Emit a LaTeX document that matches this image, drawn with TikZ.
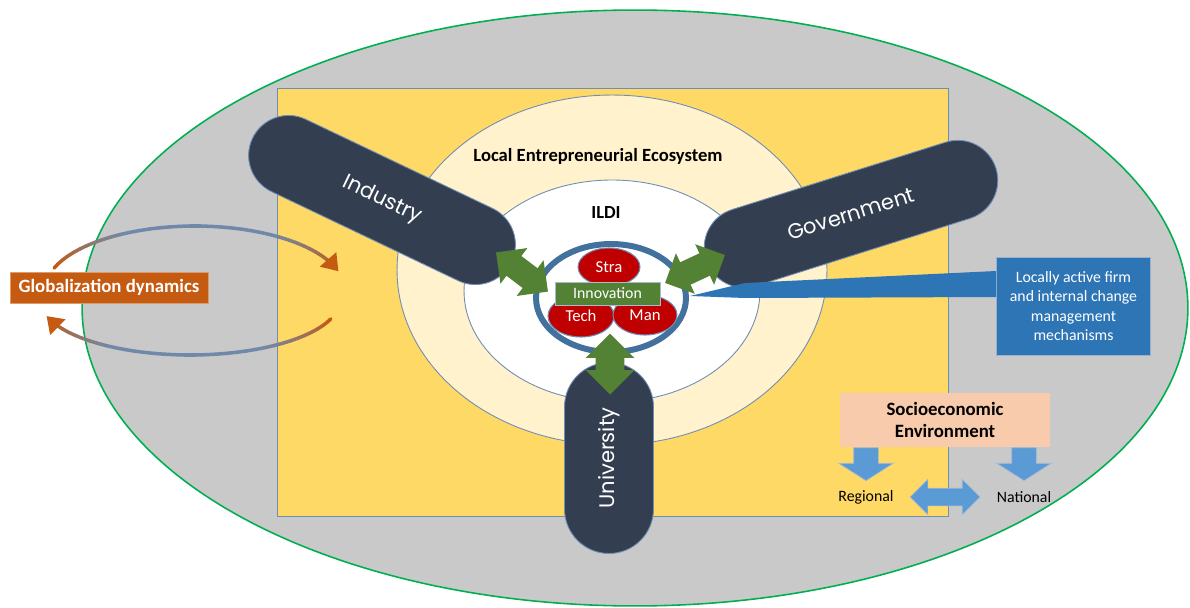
\documentclass[tikz,border=0pt]{standalone}
\usepackage{fontspec}
\setmainfont{Carlito}
\newfontfamily\pillfont{Poppins}
\usetikzlibrary{arrows.meta, calc, positioning, shapes.geometric, shapes.arrows}

\definecolor{outergray}{HTML}{C9C9C9}
\definecolor{rimgreen}{HTML}{00B050}
\definecolor{boxgold}{HTML}{FFD966}
\definecolor{ecocream}{HTML}{FFF2CC}
\definecolor{pillnavy}{HTML}{333F50}
\definecolor{edgeblue}{HTML}{6F8DB5}
\definecolor{ringblue}{HTML}{41719C}
\definecolor{corered}{HTML}{C00000}
\definecolor{innogreen}{HTML}{548235}
\definecolor{calloutblue}{HTML}{2E75B6}
\definecolor{globorange}{HTML}{C55A11}
\definecolor{socpeach}{HTML}{F8CBAD}
\definecolor{levelblue}{HTML}{5B9BD5}
\definecolor{loopblue}{HTML}{7089A8}

\tikzstyle{pill} = [draw=edgeblue, line width=0.5pt, fill=pillnavy, text=white, font=\pillfont\fontsize{12}{14}\selectfont, rounded corners=0.8cm, inner sep=0pt]
\tikzstyle{core} = [ellipse, draw=edgeblue, line width=0.6pt, fill=corered, text=white, font=\fontsize{9.5}{11}\selectfont, inner sep=0pt]
\tikzstyle{link} = [double arrow, fill=innogreen, inner xsep=0pt, inner ysep=0.24cm, double arrow head extend=0.2cm]
\tikzstyle{level} = [fill=levelblue, draw=edgeblue!60, line width=0.4pt, inner xsep=0pt]
\tikzstyle{loopline} = [line width=2pt, line cap=round]

\begin{document}
\begin{tikzpicture}[x=0.02cm, y=-0.02cm, >=Latex]
  \useasboundingbox (0,0) rectangle (1190,608);

  % outer environment
  \node[ellipse, fill=outergray, draw=rimgreen, line width=0.9pt, inner sep=0pt, minimum width=22.12cm, minimum height=11.92cm] (region) at (635,308) {};
  \node[fill=boxgold, draw=edgeblue, line width=0.5pt, inner sep=0pt, minimum width=13.42cm, minimum height=8.56cm] (localbox) at (612.5,302) {};

  % globalization loops
  \foreach \a [evaluate=\a as \p using {max(0,100-100*min(\a-20,160-\a)/40)}] in {160,156,...,28}
    \draw[loopline, color=globorange!\p!loopblue] ({195+150*cos(\a)},{290-64*sin(\a)}) -- ({195+150*cos(\a-4)},{290-64*sin(\a-4)});
  \draw[loopline, line cap=butt, globorange, -{Triangle[width=12pt, length=9pt]}] ({195+150*cos(24)},{290-64*sin(24)}) -- ({195+150*cos(17)},{290-64*sin(17)});
  \foreach \a [evaluate=\a as \p using {max(0,100-100*min(-20-\a,\a+160)/40)}] in {-20,-24,...,-152}
    \draw[loopline, color=globorange!\p!loopblue] ({190+150*cos(\a)},{300-55*sin(\a)}) -- ({190+150*cos(\a-4)},{300-55*sin(\a-4)});
  \draw[loopline, line cap=butt, globorange, -{Triangle[width=12pt, length=9pt]}] ({190+150*cos(-156)},{300-55*sin(-156)}) -- ({190+150*cos(-163)},{300-55*sin(-163)});

  \node[fill=globorange, draw=globorange!60, line width=0.5pt, text=white, font=\bfseries\fontsize{10.7}{12}\selectfont, minimum width=3.96cm, minimum height=0.62cm, inner sep=0pt] (globdyn) at (109,287.5) {Globalization dynamics};

  % ecosystem rings
  \node[ellipse, fill=ecocream, draw=edgeblue, line width=0.5pt, inner sep=0pt, minimum width=8.6cm, minimum height=7.0cm] (ecosystem) at (612,270) {};
  \node[ellipse, fill=white, draw=edgeblue, line width=0.5pt, inner sep=0pt, minimum width=5.92cm, minimum height=4.44cm] (ildiarea) at (612,291) {};
  \node[font=\bfseries\fontsize{10.6}{12}\selectfont] (ecolabel) at (598,156) {Local Entrepreneurial Ecosystem};
  \node[font=\bfseries\fontsize{10.5}{12}\selectfont] (ildi) at (606,213) {ILDI};

  % helices
  \node[pill, minimum width=5.74cm, minimum height=1.6cm, rotate=-25.5] (industry) at (382,200) {Industry};
  \node[pill, minimum width=6.08cm, minimum height=1.6cm, rotate=17.5] (government) at (851,214) {Government};

  % firm callout
  \node[fill=calloutblue, draw=edgeblue!70, line width=0.5pt, text=white, align=center, font=\fontsize{9}{11}\selectfont, minimum width=3.08cm, minimum height=1.96cm, inner sep=0pt] (firm) at (1073.5,306) {Locally active firm\\and internal change\\management\\mechanisms};
  \coordinate (firmtip) at (690,296);
  \fill[calloutblue] (firmtip) -- (745,283) -- ($(firm.west)+(0,-35)$) -- ($(firm.west)+(0,-9)$) -- (745,298) -- cycle;

  % core of the firm
  \node[draw=ringblue, line width=3.4pt, ellipse, inner sep=0pt, minimum width=3.0cm, minimum height=2.16cm] (ring) at (611,298) {};
  \node[core, minimum width=1.24cm, minimum height=0.76cm] (stra) at (609,267) {Stra};
  \node[core, minimum width=1.32cm, minimum height=0.84cm] (tech) at (581,316) {Tech};
  \node[core, minimum width=1.28cm, minimum height=0.8cm] (man) at (645,315) {Man};
  \node[fill=innogreen, draw=edgeblue!60, line width=0.5pt, text=white, font=\fontsize{9}{10}\selectfont, minimum width=2.1cm, minimum height=0.46cm, inner sep=0pt] (innovation) at (607.5,293.5) {Innovation};

  \node[link, minimum height=1.3cm, rotate=-37] (indlink) at (522,272) {};
  \node[link, minimum height=1.32cm, rotate=25] (govlink) at (695,269) {};

  \node[pill, minimum width=3.82cm, minimum height=1.78cm, rounded corners=0.89cm, rotate=90] (university) at (609,458) {University};
  \node[link, minimum height=1.22cm, inner ysep=0.28cm, double arrow head extend=0.2cm, rotate=90] (unilink) at (610,364) {};

  % socioeconomic levels
  \node[fill=socpeach, align=center, font=\bfseries\fontsize{10.7}{12.5}\selectfont, minimum width=4.2cm, minimum height=1.08cm, inner sep=0pt] (socenv) at (945,420) {Socioeconomic\\Environment};
  \node[font=\fontsize{9}{10}\selectfont] (regional) at (866,497) {Regional};
  \node[font=\fontsize{9}{10}\selectfont] (national) at (1024,497) {National};
  \node[level, single arrow, inner ysep=0.24cm, single arrow head extend=0.3cm, single arrow tip angle=115, minimum height=0.66cm, rotate=-90, anchor=tail] (regarrow) at (socenv.south -| regional) {};
  \node[level, single arrow, inner ysep=0.24cm, single arrow head extend=0.3cm, single arrow tip angle=115, minimum height=0.66cm, rotate=-90, anchor=tail] (natarrow) at (socenv.south -| national) {};
  \node[level, double arrow, inner ysep=0.17cm, double arrow head extend=0.18cm, minimum height=1.4cm] (levellink) at ($(regional)!0.5!(national)$) {};

\end{tikzpicture}
\end{document}
